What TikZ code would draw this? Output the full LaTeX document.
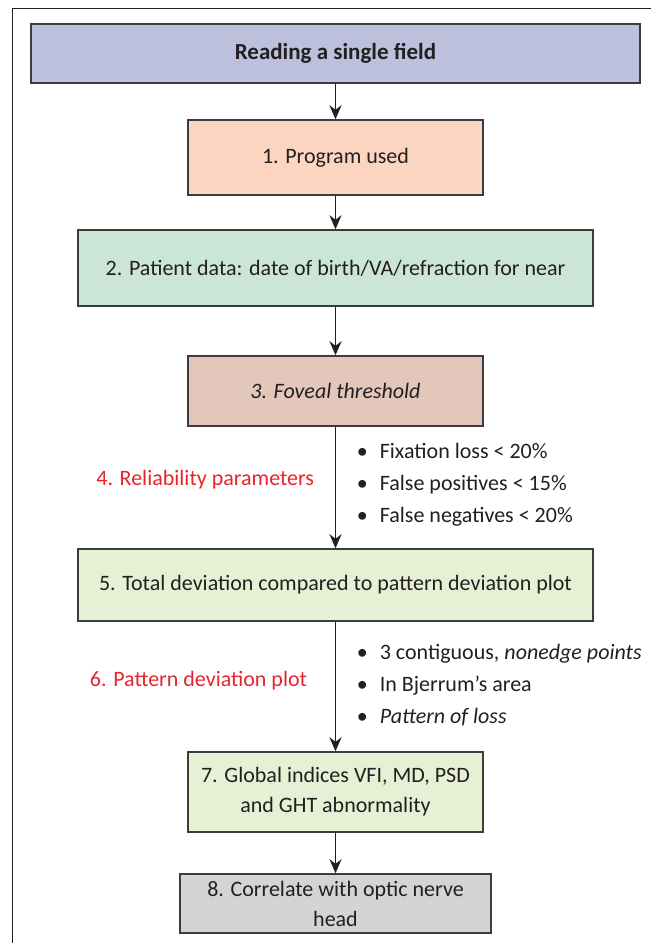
\documentclass[tikz,border=0pt]{standalone}
\usepackage{fontspec}
\setmainfont{Carlito}
\usetikzlibrary{arrows.meta}

\definecolor{ink}{HTML}{231F20}
\definecolor{boxline}{HTML}{3C3C3C}
\definecolor{redlab}{HTML}{E8232B}
\definecolor{lavender}{HTML}{BCC0DC}
\definecolor{salmon}{HTML}{FCD5C1}
\definecolor{mint}{HTML}{CBE6D7}
\definecolor{rosy}{HTML}{E3C7BB}
\definecolor{pale}{HTML}{E5F0D4}
\definecolor{greybox}{HTML}{D3D4D6}

\begin{document}
\begin{tikzpicture}
	[x=0.5pt, y=-0.5pt,
	box/.style = {draw=boxline, line width=0.75pt, text=ink, align=center,
	inner sep=0pt, font=\fontsize{11}{15}\selectfont},
	lab/.style = {text=redlab, anchor=east, inner sep=0pt,
	font=\fontsize{11}{15}\selectfont},
	list/.style = {text=ink, anchor=west, align=left, inner sep=0pt,
	font=\fontsize{11}{16}\selectfont},
	>={Stealth[length=7pt,width=6pt]}, line width=0.9pt]
	\useasboundingbox (0,0) rectangle (651,943);
	% frame
	\draw[line width=0.75pt, ink] (12.5,943) -- (12.5,8.5) -- (651,8.5);
	% boxes
	\node[box, fill=lavender, minimum width=304.5pt, minimum height=29.5pt,
	font=\fontsize{11.5}{15}\selectfont\bfseries] (title) at (335.5,53.5) {Reading a single field};
	\node[box, fill=salmon, minimum width=147.5pt, minimum height=37.5pt] (prog) at (335.5,157.5) {1. Program used};
	\node[box, fill=mint, minimum width=257.5pt, minimum height=38pt] (patient) at (335.5,268) {2. Patient data: date of birth/VA/refraction for near};
	\node[box, fill=rosy, minimum width=147.5pt, minimum height=35pt] (fovea) at (335.5,391) {\itshape 3. Foveal threshold};
	\node[box, fill=pale, minimum width=257.5pt, minimum height=36pt] (total) at (335.5,585) {5. Total deviation compared to pattern deviation plot};
	\node[box, fill=pale, minimum width=147.5pt, minimum height=40pt] (global) at (335.5,792) {7. Global indices VFI, MD, PSD\\and GHT abnormality};
	\node[box, fill=greybox, minimum width=155.5pt, minimum height=29.5pt] (nerve) at (335.5,903.5) {8. Correlate with optic nerve\\head};
	% side notes
	\node[lab] (rel) at (315,480) {4. Reliability parameters};
	\node[list] (relist) at (356,485) {\textbullet\hspace{6pt}Fixation loss < 20\%\\
		\textbullet\hspace{6pt}False positives < 15\%\\
		\textbullet\hspace{6pt}False negatives < 20\%};
	\node[lab] (pat) at (308,681) {6. Pattern deviation plot};
	\node[list] (patlist) at (356,685) {\textbullet\hspace{6pt}3 contiguous, \textit{nonedge points}\\
		\textbullet\hspace{6pt}In Bjerrum’s area\\
		\textbullet\hspace{6pt}\textit{Pattern of loss}};
	% arrows
	\draw[->, ink] (title) -- (prog);
	\draw[->, ink] (prog) -- (patient);
	\draw[->, ink] (patient) -- (fovea);
	\draw[->, ink] (fovea) -- (total);
	\draw[->, ink] (total) -- (global);
	\draw[->, ink] (global) -- (nerve);
\end{tikzpicture}
\end{document}
